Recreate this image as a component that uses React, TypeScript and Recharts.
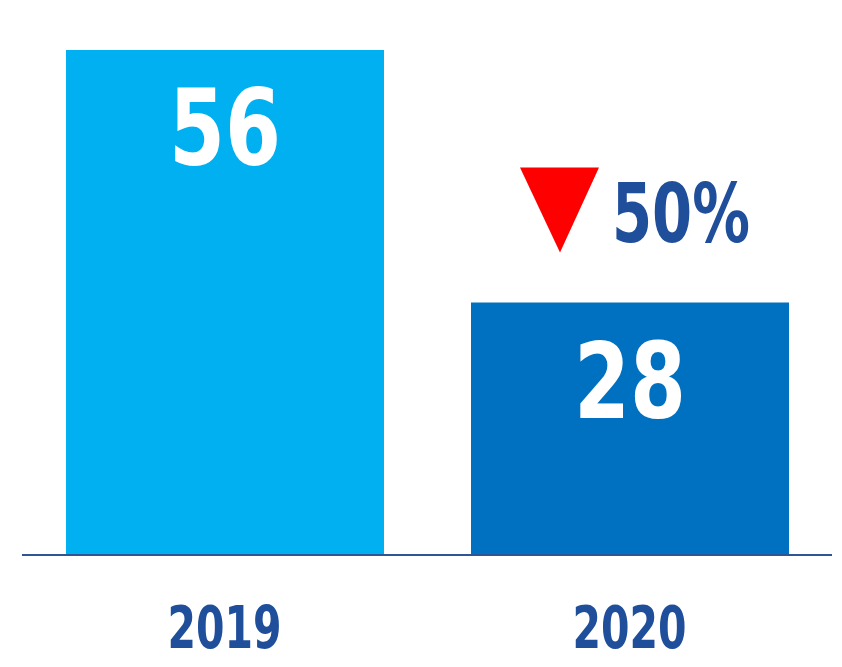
import React from 'react';
import { BarChart, Bar, XAxis, YAxis, Cell, LabelList } from 'recharts';

const categories = ['2019', '2020'];
const values = [56, 28];
const barColors = ['#00B0F0', '#0070C0'];
const changeLabel = '50%';

const data = categories.map((c, i) => ({ year: c, value: values[i] }));

const FONT = '"DejaVu Sans Condensed", "Liberation Sans Narrow", sans-serif';
const DARK = '#1F4E9B';

const ValueLabel = (props: any) => {
  const { x, y, width, value, index } = props;
  const cx = x + width / 2;
  return (
    <g>
      <text
        x={cx}
        y={y + 115}
        textAnchor="middle"
        fill="#FFFFFF"
        fontFamily={FONT}
        fontWeight="bold"
        fontSize={106}
        textLength={112}
        lengthAdjust="spacingAndGlyphs"
      >
        {value}
      </text>
      {index === 1 && (
        <g>
          <polygon points={`${cx - 110},${y - 135} ${cx - 31},${y - 135} ${cx - 70},${y - 50}`} fill="#FF0000" />
          <text
            x={cx - 18}
            y={y - 61}
            textAnchor="start"
            fill={DARK}
            fontFamily={FONT}
            fontWeight="bold"
            fontSize={82}
            textLength={138}
            lengthAdjust="spacingAndGlyphs"
          >
            {changeLabel}
          </text>
        </g>
      )}
    </g>
  );
};

const YearTick = (props: any) => {
  const { x, y, payload } = props;
  return (
    <text
      x={x}
      y={y + 85}
      textAnchor="middle"
      fill={DARK}
      fontFamily={FONT}
      fontWeight="bold"
      fontSize={58}
      textLength={114}
      lengthAdjust="spacingAndGlyphs"
    >
      {payload.value}
    </text>
  );
};

export default function App() {
  return (
    <div style={{ position: 'absolute', left: 0, top: 0, background: '#fff' }}>
      <BarChart width={842} height={667} data={data} margin={{ top: 50, right: 10, left: 22, bottom: 0 }}>
        <YAxis hide domain={[0, 56]} />
        <XAxis
          dataKey="year"
          height={112}
          axisLine={{ stroke: '#2F5597', strokeWidth: 2 }}
          tickLine={false}
          tick={<YearTick />}
          interval={0}
        />
        <Bar dataKey="value" barSize={318} isAnimationActive={false}>
          {data.map((d, i) => (
            <Cell key={d.year} fill={barColors[i]} />
          ))}
          <LabelList dataKey="value" content={<ValueLabel />} />
        </Bar>
      </BarChart>
    </div>
  );
}
